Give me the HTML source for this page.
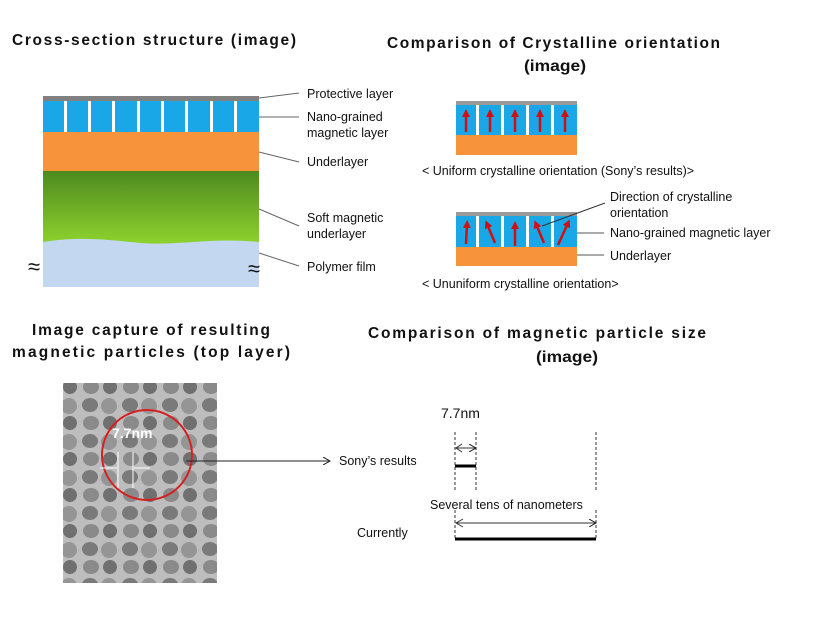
<!DOCTYPE html>
<html><head><style>
body{margin:0;background:#fff;}
svg{display:block;}
text{font-family:"Liberation Sans",Arial,sans-serif;fill:#111;}
.t{font-weight:bold;font-size:15.5px;}
.l{font-size:12.5px;}
</style></head><body>
<svg width="818" height="621" viewBox="0 0 818 621" xmlns="http://www.w3.org/2000/svg">
<defs>
<linearGradient id="g" x1="0" y1="0" x2="0" y2="1"><stop offset="0" stop-color="#4d8a1f"/><stop offset="1" stop-color="#8fd42e"/></linearGradient>
<marker id="a" markerWidth="8" markerHeight="8" refX="7" refY="4" orient="auto" markerUnits="userSpaceOnUse"><path d="M0,0 L7,4 L0,8" fill="none" stroke="#222" stroke-width="1"/></marker>
<marker id="ra" markerWidth="8" markerHeight="8" refX="4" refY="4" orient="auto" markerUnits="userSpaceOnUse"><path d="M0,0 L8,4 L0,8 Z" fill="#d01010"/></marker>
<pattern id="tem" width="40" height="36" patternUnits="userSpaceOnUse">
<rect width="40" height="36" fill="#bdbdbd"/>
<ellipse cx="10" cy="9" rx="8" ry="7" fill="#7a7a7a"/>
<ellipse cx="29" cy="10" rx="8" ry="8" fill="#959595"/>
<ellipse cx="11" cy="27" rx="8" ry="7" fill="#8a8a8a"/>
<ellipse cx="30" cy="27" rx="7" ry="7" fill="#707070"/>
</pattern>
</defs>

<text class="t" x="12" y="45" textLength="284" lengthAdjust="spacing">Cross-section  structure  (image)</text>
<text class="t" x="387" y="48" textLength="333" lengthAdjust="spacing">Comparison  of Crystalline  orientation</text>
<text class="t" x="524" y="71" textLength="62" lengthAdjust="spacingAndGlyphs">(image)</text>
<text class="t" x="32" y="335" textLength="238" lengthAdjust="spacing">Image capture of resulting</text>
<text class="t" x="12" y="357" textLength="278" lengthAdjust="spacing">magnetic particles (top layer)</text>
<text class="t" x="368" y="338" textLength="338" lengthAdjust="spacing">Comparison of magnetic particle size</text>
<text class="t" x="536" y="362" textLength="62" lengthAdjust="spacingAndGlyphs">(image)</text>

<rect x="43" y="96" width="216" height="5" fill="#808080"/>
<rect x="43" y="101" width="216" height="31" fill="#1aa7e8"/>
<g fill="#fff">
<rect x="64" y="101" width="3" height="31"/><rect x="88" y="101" width="3" height="31"/><rect x="112" y="101" width="3" height="31"/><rect x="137" y="101" width="3" height="31"/><rect x="161" y="101" width="3" height="31"/><rect x="185" y="101" width="3" height="31"/><rect x="210" y="101" width="3" height="31"/><rect x="234" y="101" width="3" height="31"/>
</g>
<rect x="43" y="132" width="216" height="40" fill="#f7933a"/>
<rect x="43" y="171" width="216" height="75" fill="url(#g)"/>
<path d="M43,242 C80,236 110,240 140,243 C180,246 210,237 259,242 L259,287 L43,287 Z" fill="#c3d8f0"/>
<text x="28" y="274" font-size="22">≈</text>
<text x="248" y="276" font-size="22">≈</text>
<g stroke="#666" stroke-width="1">
<line x1="259" y1="98" x2="299" y2="93"/>
<line x1="259" y1="117" x2="299" y2="117"/>
<line x1="259" y1="152" x2="299" y2="162"/>
<line x1="259" y1="209" x2="299" y2="226"/>
<line x1="259" y1="253" x2="299" y2="266"/>
</g>
<text class="l" x="307" y="98">Protective layer</text>
<text class="l" x="307" y="121">Nano-grained</text>
<text class="l" x="307" y="137">magnetic layer</text>
<text class="l" x="307" y="166">Underlayer</text>
<text class="l" x="307" y="222">Soft magnetic</text>
<text class="l" x="307" y="238">underlayer</text>
<text class="l" x="307" y="271">Polymer film</text>

<rect x="456" y="101" width="121" height="4" fill="#999"/>
<rect x="456" y="105" width="121" height="30" fill="#1aa7e8"/>
<g fill="#fff"><rect x="476" y="105" width="3" height="30"/><rect x="501" y="105" width="3" height="30"/><rect x="526" y="105" width="3" height="30"/><rect x="551" y="105" width="3" height="30"/></g>
<rect x="456" y="135" width="121" height="20" fill="#f7933a"/>
<g stroke="#d01010" stroke-width="2.5" marker-end="url(#ra)">
<line x1="466" y1="132" x2="466" y2="113"/><line x1="490" y1="132" x2="490" y2="113"/><line x1="515" y1="132" x2="515" y2="113"/><line x1="540" y1="132" x2="540" y2="113"/><line x1="565" y1="132" x2="565" y2="113"/>
</g>
<text class="l" x="422" y="175">&lt; Uniform crystalline orientation (Sony’s results)&gt;</text>

<rect x="456" y="212" width="121" height="4" fill="#999"/>
<rect x="456" y="216" width="121" height="31" fill="#1aa7e8"/>
<g fill="#fff"><rect x="476" y="216" width="3" height="31"/><rect x="501" y="216" width="3" height="31"/><rect x="526" y="216" width="3" height="31"/><rect x="551" y="216" width="3" height="31"/></g>
<rect x="456" y="247" width="121" height="19" fill="#f7933a"/>
<g stroke="#d01010" stroke-width="2.5" marker-end="url(#ra)">
<line x1="466" y1="244" x2="467" y2="224"/><line x1="495" y1="243" x2="487" y2="224"/><line x1="515" y1="246" x2="515" y2="225"/><line x1="544" y1="243" x2="536" y2="224"/><line x1="558" y1="245" x2="568" y2="223"/>
</g>
<line x1="542" y1="226" x2="605" y2="203" stroke="#333" stroke-width="1"/>
<line x1="577" y1="233" x2="604" y2="233" stroke="#555"/>
<line x1="577" y1="255" x2="604" y2="255" stroke="#555"/>
<text class="l" x="610" y="201">Direction of crystalline</text>
<text class="l" x="610" y="217">orientation</text>
<text class="l" x="610" y="237">Nano-grained magnetic layer</text>
<text class="l" x="610" y="260">Underlayer</text>
<text class="l" x="422" y="288">&lt; Ununiform crystalline orientation&gt;</text>

<rect x="63" y="383" width="154" height="200" fill="url(#tem)"/>
<circle cx="147" cy="455" r="45" fill="none" stroke="#d42020" stroke-width="2"/>
<text x="112" y="438" font-size="14" font-weight="bold" style="fill:#fff">7.7nm</text>
<g stroke="#fff" stroke-width="1"><line x1="118" y1="452" x2="118" y2="488"/><line x1="133" y1="452" x2="133" y2="488"/><line x1="100" y1="468" x2="117" y2="468"/><line x1="134" y1="468" x2="150" y2="468"/></g>
<line x1="186" y1="461" x2="330" y2="461" stroke="#222" stroke-width="1" marker-end="url(#a)"/>
<text class="l" x="339" y="465">Sony’s results</text>
<text x="441" y="418" font-size="14">7.7nm</text>
<g stroke="#333" stroke-width="1" stroke-dasharray="3,2">
<line x1="455" y1="432" x2="455" y2="490"/><line x1="476" y1="432" x2="476" y2="490"/><line x1="596" y1="432" x2="596" y2="490"/>
<line x1="455" y1="510" x2="455" y2="540"/><line x1="596" y1="510" x2="596" y2="540"/>
</g>
<line x1="456" y1="448" x2="476" y2="448" stroke="#333" marker-end="url(#a)"/>
<path d="M462,444 L456,448 L462,452" fill="none" stroke="#333"/>
<line x1="455" y1="466" x2="476" y2="466" stroke="#000" stroke-width="3"/>
<text class="l" x="430" y="509">Several tens of nanometers</text>
<line x1="456" y1="523" x2="596" y2="523" stroke="#333" marker-end="url(#a)"/>
<path d="M463,519 L456,523 L463,527" fill="none" stroke="#333"/>
<line x1="455" y1="539" x2="596" y2="539" stroke="#000" stroke-width="3"/>
<text class="l" x="357" y="537">Currently</text>
</svg>
</body></html>
